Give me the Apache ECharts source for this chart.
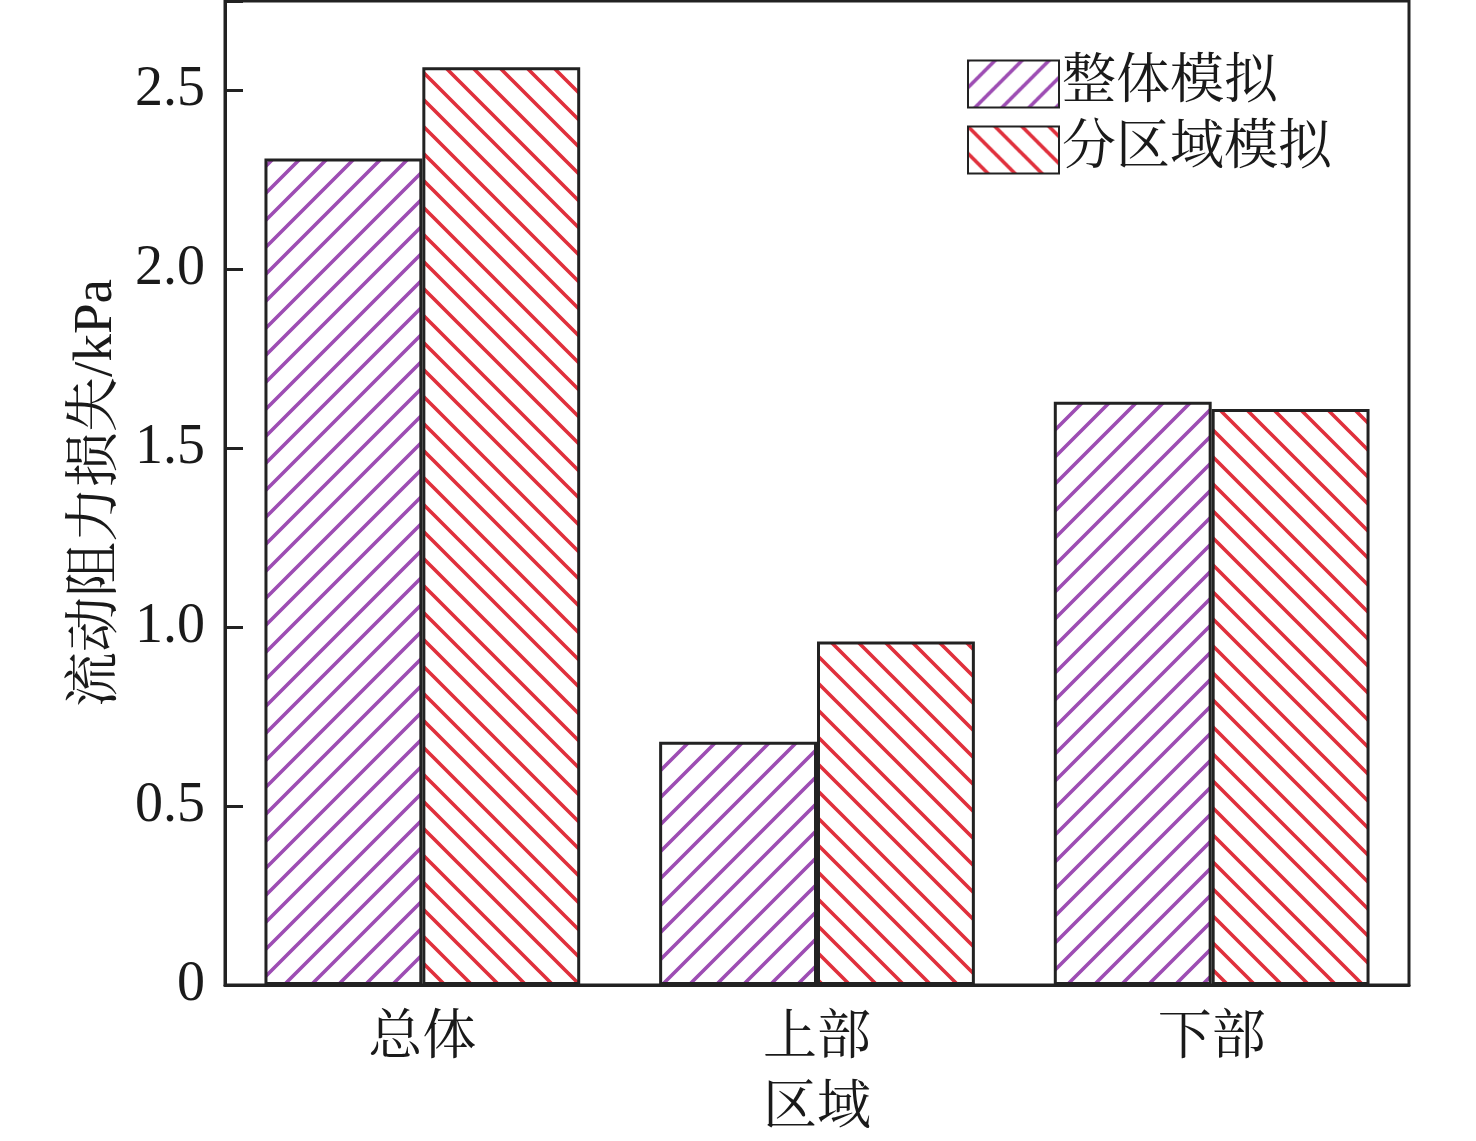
<!DOCTYPE html>
<html>
<head>
<meta charset="utf-8">
<script src="https://cdn.jsdelivr.net/npm/echarts@6/dist/echarts.min.js"></script>
<style>
  html, body { margin: 0; padding: 0; background: #fff; }
  #chart { width: 1476px; height: 1141px; }
</style>
</head>
<body>
<div id="chart"></div>
<script>
// Data
const regions = ['总体', '上部', '下部'];
const wholeModel = [2.31, 0.68, 1.63];
const zonedModel = [2.565, 0.96, 1.61];
const yTicks = ['0', '0.5', '1.0', '1.5', '2.0', '2.5'];

const FONT = '"Liberation Serif", "Noto Serif CJK SC", "Noto Sans CJK SC", serif';
const PURPLE = '#9d4db3';
const RED = '#e0303c';

// Build a hatch tile: direction 1 = "/" lines, -1 = "\" lines
function hatch(color, dir) {
    const size = 27;
    const c = document.createElement('canvas');
    c.width = size;
    c.height = size;
    const ctx = c.getContext('2d');
    ctx.fillStyle = '#fff';
    ctx.fillRect(0, 0, size, size);
    ctx.strokeStyle = color;
    ctx.lineWidth = 3.6;
    ctx.beginPath();
    for (let k = -1; k <= 1; k++) {
        if (dir > 0) {
            ctx.moveTo(k * size - 3, size + 3);
            ctx.lineTo(k * size + size + 3, -3);
        } else {
            ctx.moveTo(k * size - 3, -3);
            ctx.lineTo(k * size + size + 3, size + 3);
        }
    }
    ctx.stroke();
    return { image: c, repeat: 'repeat' };
}

const chart = echarts.init(document.getElementById('chart'));

chart.setOption({
    backgroundColor: '#fff',
    animation: false,
    textStyle: { fontFamily: FONT },
    grid: {
        left: 225, right: 67, top: 1, bottom: 156,
        outerBoundsMode: 'none',
        containLabel: false,
        show: true, borderColor: '#222', borderWidth: 3, backgroundColor: 'transparent'
    },
    legend: {
        left: 962, top: 52,
        padding: 5,
        orient: 'vertical',
        itemWidth: 91, itemHeight: 47, itemGap: 12,
        icon: 'rect',
        textStyle: { fontFamily: FONT, fontSize: 54, lineHeight: 54, color: '#1a1a1a', padding: [0, 0, 0, -2] },
        data: ['整体模拟', '分区域模拟']
    },
    xAxis: {
        type: 'category',
        data: regions,
        name: '区域',
        nameLocation: 'middle',
        nameGap: 98,
        nameTextStyle: { fontFamily: FONT, fontSize: 54, color: '#1a1a1a' },
        axisLine: { lineStyle: { color: '#222', width: 3 } },
        axisTick: { show: false },
        axisLabel: { fontFamily: FONT, fontSize: 54, color: '#1a1a1a', margin: 28 }
    },
    yAxis: {
        type: 'value',
        min: 0, max: 2.75, interval: 0.5,
        name: '流动阻力损失/kPa',
        nameLocation: 'middle',
        nameGap: 98,
        nameTextStyle: { fontFamily: FONT, fontSize: 55, color: '#1a1a1a' },
        splitLine: { show: false },
        axisLine: { show: true, lineStyle: { color: '#222', width: 3 } },
        axisTick: { show: true, inside: true, length: 18, lineStyle: { color: '#222', width: 3 } },
        axisLabel: {
            fontFamily: FONT, fontSize: 56, color: '#1a1a1a', margin: 20,
            formatter: function (v) {
                const idx = Math.round(v / 0.5);
                return yTicks[idx] !== undefined ? yTicks[idx] : '';
            }
        }
    },
    series: [
        {
            name: '整体模拟',
            type: 'bar',
            data: wholeModel,
            barGap: '0%',
            barCategoryGap: '20%',
            itemStyle: { color: hatch(PURPLE, 1), borderColor: '#222', borderWidth: 3 }
        },
        {
            name: '分区域模拟',
            type: 'bar',
            data: zonedModel,
            barGap: '0%',
            barCategoryGap: '20%',
            itemStyle: { color: hatch(RED, -1), borderColor: '#222', borderWidth: 3 }
        }
    ]
});
</script>
</body>
</html>
